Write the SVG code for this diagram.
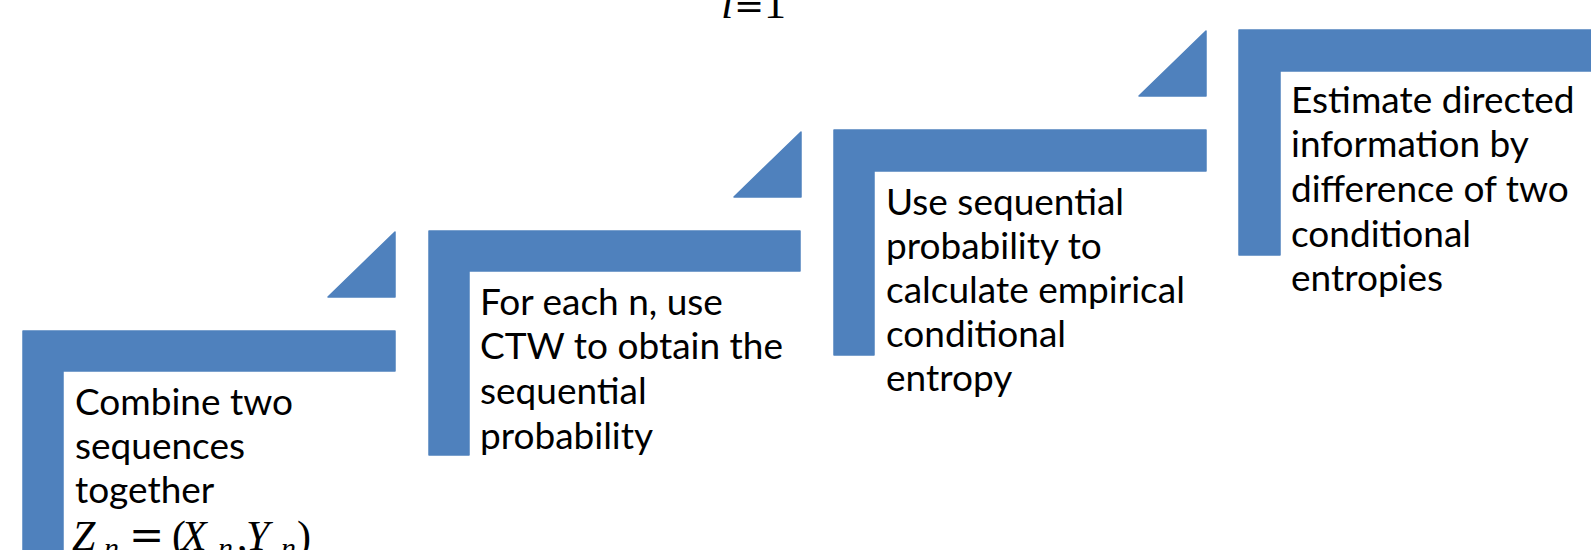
<svg xmlns="http://www.w3.org/2000/svg" width="1591" height="550" viewBox="0 0 1591 550">
  <style>
    .shape { fill: #4F81BD; stroke: #4F81BD; stroke-width: 1.5; stroke-linejoin: round; }
    .lbl { font-family: Lato, "Open Sans", "Liberation Sans", sans-serif; font-size: 37px; fill: #000000; }
    .math { font-family: "Liberation Serif", "DejaVu Serif", serif; fill: #000000; }
    .op { font-family: "DejaVu Serif", "Liberation Serif", serif; }
  </style>
  <rect width="1591" height="550" fill="#FFFFFF"/>

  <g id="title">
    <text class="math" y="18" font-size="44"><tspan x="721" font-style="italic">i</tspan><tspan class="op" x="734" font-size="36">=</tspan><tspan x="764">1</tspan></text>
  </g>

  <g id="connectors">
    <path class="shape" d="M395 232 L395 297 L328 297 Z"/>
    <path class="shape" d="M801 132 L801 197 L734 197 Z"/>
    <path class="shape" d="M1206 31 L1206 96 L1139 96 Z"/>
  </g>

  <g id="step1">
    <path class="shape" d="M23 331 H395 V371 H63 V560 H23 Z"/>
    <text class="lbl"><tspan x="75" y="415">Combine two</tspan><tspan x="75" y="459">sequences</tspan><tspan x="75" y="503">together</tspan></text>
    <text class="math" y="550" font-size="42"><tspan x="72" font-style="italic">Z</tspan><tspan x="104" y="558" font-size="30" font-style="italic">n</tspan><tspan class="op" x="129" y="550">=</tspan><tspan x="172">(</tspan><tspan x="181" font-style="italic">X</tspan><tspan x="218" y="558" font-size="30" font-style="italic">n</tspan><tspan x="237" y="550">,</tspan><tspan x="246" font-style="italic">Y</tspan><tspan x="281" y="558" font-size="30" font-style="italic">n</tspan><tspan x="297" y="550">)</tspan></text>
  </g>

  <g id="step2">
    <path class="shape" d="M429 231 H800 V271 H469 V455 H429 Z"/>
    <text class="lbl"><tspan x="480" y="315">For each n, use</tspan><tspan x="480" y="359">CTW to obtain the</tspan><tspan x="480" y="404">sequential</tspan><tspan x="480" y="449">probability</tspan></text>
  </g>

  <g id="step3">
    <path class="shape" d="M834 130 H1206 V171 H874 V355 H834 Z"/>
    <text class="lbl"><tspan x="886" y="215">Use sequential</tspan><tspan x="886" y="259">probability to</tspan><tspan x="886" y="303">calculate empirical</tspan><tspan x="886" y="347">conditional</tspan><tspan x="886" y="391">entropy</tspan></text>
  </g>

  <g id="step4">
    <path class="shape" d="M1239 30 H1600 V71 H1280 V255 H1239 Z"/>
    <text class="lbl"><tspan x="1291" y="113">Estimate directed</tspan><tspan x="1291" y="157">information by</tspan><tspan x="1291" y="202">difference of two</tspan><tspan x="1291" y="247">conditional</tspan><tspan x="1291" y="291">entropies</tspan></text>
  </g>
</svg>
